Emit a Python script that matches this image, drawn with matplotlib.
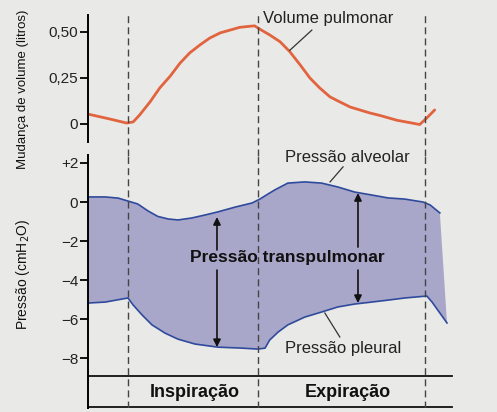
import matplotlib
matplotlib.use("Agg")
import matplotlib.pyplot as plt

plt.rcParams['font.family'] = ['Liberation Sans', 'DejaVu Sans']

# tempo (s) a partir do inicio da inspiracao
t_vol = [-0.62, -0.28, -0.02, 0.08, 0.18, 0.34, 0.49, 0.65, 0.80, 0.95, 1.11, 1.26, 1.42, 1.57,
         1.72, 1.88, 1.95, 2.03, 2.18, 2.34, 2.49, 2.65, 2.80, 2.95, 3.11, 3.26, 3.42, 3.57, 3.72,
         3.88, 4.14, 4.34, 4.49, 4.60, 4.72]
volume = [0.054, 0.027, 0.005, 0.011, 0.049, 0.12, 0.196, 0.26, 0.33, 0.386, 0.43, 0.467, 0.495, 0.51,
          0.525, 0.531, 0.533, 0.515, 0.484, 0.447, 0.393, 0.321, 0.25, 0.196, 0.147, 0.12, 0.092,
          0.076, 0.06, 0.046, 0.02, 0.007, -0.003, 0.033, 0.076]

t_alv = [-0.62, -0.35, -0.15, 0.0, 0.15, 0.31, 0.46, 0.62, 0.77, 0.98, 1.18, 1.38, 1.65, 1.91,
         2.03, 2.15, 2.26, 2.46, 2.72, 2.98, 3.23, 3.49, 3.75, 4.0, 4.26, 4.54, 4.65, 4.8]
p_alv = [0.26, 0.26, 0.2, 0.05, -0.1, -0.46, -0.74, -0.87, -0.92, -0.82, -0.67, -0.51, -0.26, -0.05,
         0.15, 0.4, 0.62, 0.97, 1.03, 0.97, 0.77, 0.51, 0.36, 0.21, 0.15, 0.0, -0.15, -0.56]

t_pl = [-0.62, -0.35, 0.0, 0.08, 0.22, 0.37, 0.57, 0.77, 1.03, 1.38, 1.75, 2.0, 2.11, 2.18, 2.31,
        2.46, 2.72, 2.98, 3.23, 3.49, 3.75, 4.0, 4.26, 4.6, 4.68, 4.8, 4.91]
p_pl = [-5.18, -5.13, -4.92, -5.28, -5.8, -6.3, -6.72, -7.03, -7.28, -7.44, -7.49, -7.54, -7.49, -7.08,
        -6.67, -6.3, -5.9, -5.64, -5.38, -5.23, -5.13, -5.03, -4.92, -4.82, -5.13, -5.69, -6.2]

fases = [0.0, 2.0, 4.57]
vol_ticks = [0, 0.25, 0.50]
vol_labels = ['0', '0,25', '0,50']
p_ticks = [-8, -6, -4, -2, 0, 2]
p_labels = ['\u22128', '\u22126', '\u22124', '\u22122', '0', '+2']

W, H = 497, 412
fig = plt.figure(figsize=(W / 100, H / 100), dpi=100, facecolor='#e9e9e7')

def box(x0, y0, x1, y1):
    return [x0 / W, 1 - y1 / H, (x1 - x0) / W, (y1 - y0) / H]

ax1 = fig.add_axes(box(88, 15, 460, 142))
ax2 = fig.add_axes(box(88, 155, 460, 408))
xl = (-0.615, 5.11)

for ax in (ax1, ax2):
    ax.set_facecolor('none')
    ax.set_xlim(xl)
    for s in ('top', 'right', 'bottom'):
        ax.spines[s].set_visible(False)
    ax.spines['left'].set_linewidth(1.4)
    ax.set_xticks([])
    ax.tick_params(axis='y', direction='out', length=5.5, width=1.3, labelsize=11, pad=1.5,
                   labelcolor='#222')

# volume
ax1.set_ylim(-0.098, 0.592)
ax1.plot(t_vol, volume, color='#e2643f', lw=2.0, solid_capstyle='round', solid_joinstyle='round')
ax1.set_yticks(vol_ticks)
ax1.set_yticklabels(vol_labels)
ax1.text(2.08, 0.575, 'Volume pulmonar', fontsize=12, va='center', ha='left', color='#222')
ax1.plot([2.83, 2.49], [0.51, 0.40], color='#333', lw=0.9)

# pressao
ax2.set_ylim(-10.56, 2.41)
ax2.fill(t_alv + t_pl[::-1], p_alv + p_pl[::-1], color='#a8a7ca', lw=0)
ax2.plot(t_alv, p_alv, color='#2f4a9c', lw=1.2, solid_joinstyle='round')
ax2.plot(t_pl, p_pl, color='#2f4a9c', lw=1.2, solid_joinstyle='round')
ax2.set_yticks(p_ticks)
ax2.set_yticklabels(p_labels)

ap = dict(arrowstyle='-|>', color='#111', lw=1.2, mutation_scale=11, shrinkA=0, shrinkB=0)
for tx, up_head, up_tail, dn_tail, dn_head in [(1.37, -0.77, -2.46, -3.49, -7.44),
                                               (3.54, 0.46, -2.31, -3.49, -5.18)]:
    ax2.annotate('', xy=(tx, up_head), xytext=(tx, up_tail), arrowprops=ap)
    ax2.annotate('', xy=(tx, dn_head), xytext=(tx, dn_tail), arrowprops=ap)

ax2.text(2.46, -2.87, 'Press\u00e3o transpulmonar', fontsize=12.5, fontweight='bold',
         ha='center', va='center', color='#111')
ax2.text(3.37, 2.3, 'Press\u00e3o alveolar', fontsize=12, ha='center', va='center', color='#222')
ax2.plot([3.31, 3.11], [1.8, 1.03], color='#333', lw=0.9)
ax2.text(3.31, -7.49, 'Press\u00e3o pleural', fontsize=12, ha='center', va='center', color='#222')
ax2.plot([3.26, 3.03], [-6.92, -5.69], color='#333', lw=0.9)

ax2.axhline(-8.92, xmin=0, xmax=0.978, color='#111', lw=1.3)
ax2.axhline(-10.5, xmin=0, xmax=0.978, color='#111', lw=1.3)
ax2.text(1.03, -9.79, 'Inspira\u00e7\u00e3o', fontsize=13, fontweight='bold', ha='center', va='center',
         color='#111')
ax2.text(3.38, -9.79, 'Expira\u00e7\u00e3o', fontsize=13, fontweight='bold', ha='center', va='center',
         color='#111')

for f in fases:
    ax1.axvline(f, ymin=-0.11, ymax=1.0, color='#444', lw=1.0, ls=(0, (5, 3)), clip_on=False)
    ax2.axvline(f, ymin=0, ymax=1.0, color='#444', lw=1.0, ls=(0, (5, 3)))

fig.text(23 / W, 1 - 89 / H, 'Mudan\u00e7a de volume (litros)', rotation=90, fontsize=9.5,
         ha='center', va='center', color='#111')
fig.text(23 / W, 1 - 274 / H, 'Press\u00e3o (cmH$_2$O)', rotation=90, fontsize=10,
         ha='center', va='center', color='#111')

fig.savefig('out.png', dpi=100, facecolor=fig.get_facecolor())
